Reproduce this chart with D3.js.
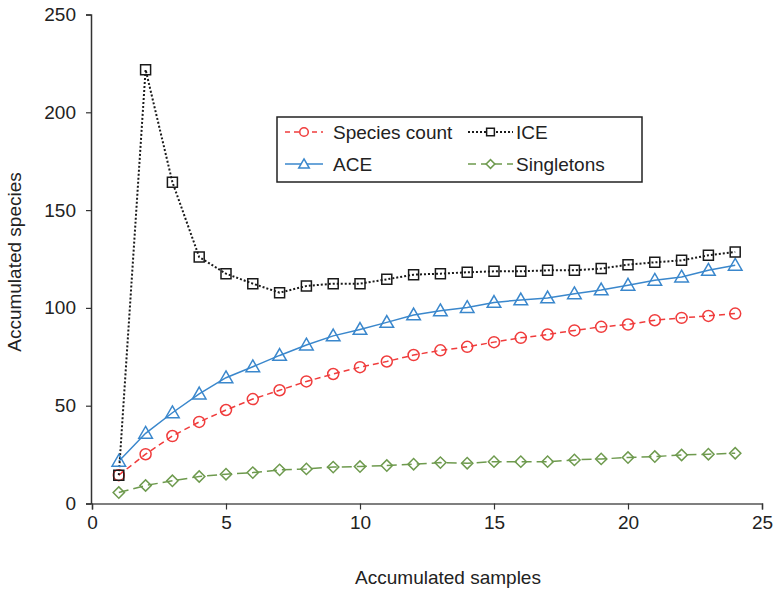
<!DOCTYPE html>
<html><head><meta charset="utf-8">
<script src="https://cdn.jsdelivr.net/npm/d3@7"></script>
<style>body{margin:0;background:#fff}svg{display:block}text{font-family:"Liberation Sans",Arial,sans-serif;fill:#222}</style>
</head><body><svg id="c" width="774" height="592"></svg>
<script>
const samples = d3.range(1, 25);
const speciesCount = [14.5,25.2,34.5,41.7,47.8,53.4,57.9,62.4,66.2,69.7,72.6,75.9,78.3,80.1,82.5,84.7,86.4,88.5,90.3,91.5,93.7,94.9,95.9,97.1];
const ice = [14.5,221.8,164.3,126,117.5,112.4,107.8,111.2,112.4,112.4,114.6,117,117.5,118.2,118.7,118.7,119.2,119.2,120.1,122.1,123.3,124.3,126.9,128.6];
const ace = [21.6,35.9,46.4,56,64.3,69.9,75.7,81,85.7,89,92.6,96.4,98.5,100.2,102.8,104.1,105.1,107.2,109.2,111.6,114.1,115.8,119.2,121.8];
const singletons = [5.6,9.2,11.6,13.8,15,15.8,17.2,17.7,18.6,18.9,19.4,20.1,20.9,20.6,21.4,21.4,21.4,22.3,22.8,23.5,24,24.8,25.2,25.7];
const xTicks = [0,5,10,15,20,25];
const yTicks = [0,50,100,150,200,250];
const seriesNames = ["Species count","ICE","ACE","Singletons"];

const svg = d3.select("#c");
const x = d3.scaleLinear().domain([0,25]).range([92,762]);
const y = d3.scaleLinear().domain([0,250]).range([503.5,14.5]);

const series = [
  {name:seriesNames[0], vals:speciesCount, color:"#f03c3c", dash:"6,4", ldash:"5,4", sym:d3.symbolCircle, size:95, rot:0, w:1.5},
  {name:seriesNames[1], vals:ice, color:"#1a1a1a", dash:"2,2", ldash:"2,2", sym:d3.symbolSquare, size:100, rot:0, w:2},
  {name:seriesNames[2], vals:ace, color:"#3a87cc", dash:null, ldash:null, sym:d3.symbolTriangle, size:80, rot:0, w:1.5},
  {name:seriesNames[3], vals:singletons, color:"#6e9a4e", dash:"10,5", ldash:"8,5", sym:d3.symbolSquare, size:64, rot:45, w:1.5}
];

// axes
const gx = svg.append("g").attr("transform",`translate(0,${y(0)})`)
  .call(d3.axisBottom(x).tickValues(xTicks).tickSize(6).tickPadding(6));
gx.select(".domain").attr("stroke","#555").attr("stroke-width",1.5);
gx.selectAll(".tick line").attr("stroke","#333").attr("stroke-width",1.2);
gx.selectAll("text").style("font-size","19px").attr("fill","#222");

const gy = svg.append("g").attr("transform",`translate(${x(0)-1},0)`)
  .call(d3.axisLeft(y).tickValues(yTicks).tickSize(5).tickPadding(10));
gy.select(".domain").attr("stroke","#333").attr("stroke-width",1.5);
gy.selectAll(".tick line").attr("stroke","#333").attr("stroke-width",1.2);
gy.selectAll("text").style("font-size","19px").attr("fill","#222");

svg.append("text").attr("x",448).attr("y",584).attr("text-anchor","middle")
  .style("font-size","19px").text("Accumulated samples");
svg.append("text").attr("transform","translate(21,262) rotate(-90)").attr("text-anchor","middle")
  .style("font-size","19px").text("Accumulated species");

const line = d3.line().x((d,i)=>x(samples[i])).y(d=>y(d));
const order = [3,0,2,1];
order.forEach(k=>{
  const s = series[k];
  svg.append("path").attr("d",line(s.vals)).attr("fill","none")
    .attr("stroke",s.color).attr("stroke-width",s.w)
    .attr("stroke-dasharray",s.dash);
});
order.forEach(k=>{
  const s = series[k];
  svg.append("g").selectAll("path").data(s.vals).join("path")
    .attr("transform",(d,i)=>`translate(${x(samples[i])},${y(d)+(s.sym===d3.symbolTriangle?1:0)}) rotate(${s.rot})`)
    .attr("d",d3.symbol().type(s.sym).size(s.size))
    .attr("fill","none").attr("stroke",s.color).attr("stroke-width",1.5);
});

// legend
const lg = svg.append("g");
lg.append("rect").attr("x",277).attr("y",117).attr("width",365).attr("height",65)
  .attr("fill","#fff").attr("stroke","#222").attr("stroke-width",1.5);
const pos = [{x1:285,x2:323,ty:132},{x1:468,x2:513,ty:132},{x1:285,x2:323,ty:164},{x1:468,x2:513,ty:164}];
series.forEach((s,i)=>{
  const p = pos[i];
  lg.append("line").attr("x1",p.x1).attr("x2",p.x2).attr("y1",p.ty).attr("y2",p.ty)
    .attr("stroke",s.color).attr("stroke-width",s.w).attr("stroke-dasharray",s.ldash);
  lg.append("path").attr("transform",`translate(${(p.x1+p.x2)/2},${p.ty+(i===2?1:0)}) rotate(${s.rot})`)
    .attr("d",d3.symbol().type(s.sym).size(s.size*0.6)).attr("fill","#fff")
    .attr("stroke",s.color).attr("stroke-width",1.5);
  lg.append("text").attr("x",p.x2+(i%2===0?10:3)).attr("y",p.ty).attr("dy","0.35em")
    .style("font-size","19px").text(s.name);
});
</script></body></html>
